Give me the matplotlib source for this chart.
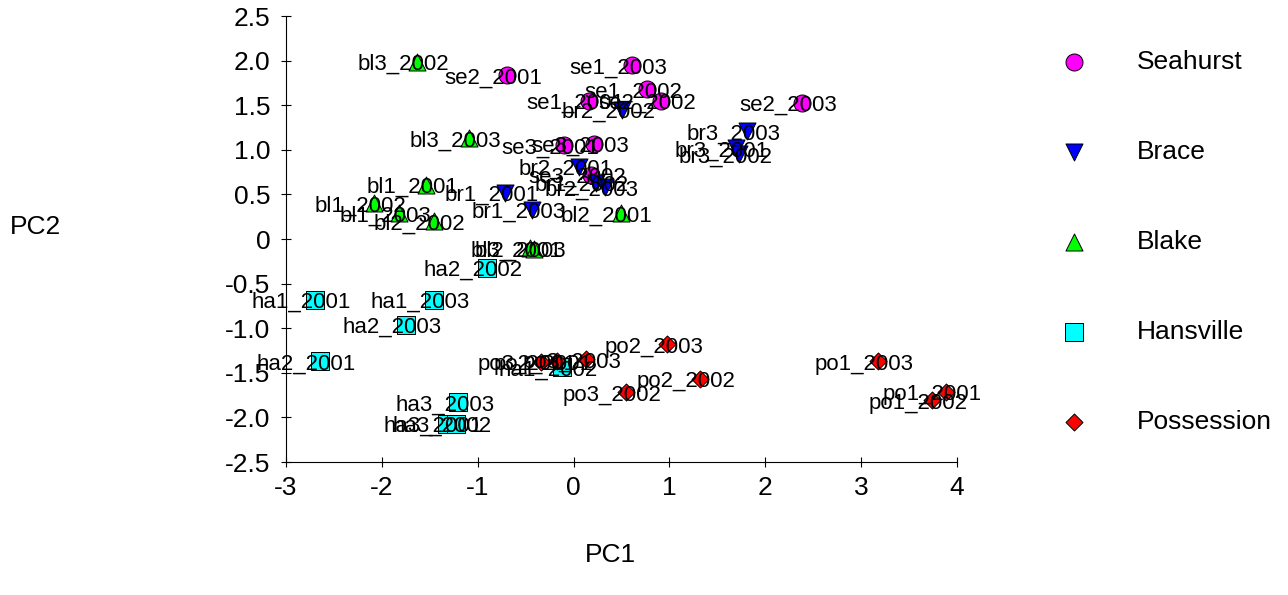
import numpy as np
import matplotlib
matplotlib.use("Agg")
import matplotlib.pyplot as plt

plt.rcParams['font.family'] = ['Liberation Sans', 'DejaVu Sans']
plt.rcParams['axes.unicode_minus'] = False

# PCA scores
se_names = ["se1_2003", "se2_2001", "se1_2002", "se1_2001", "se2_2002",
            "se2_2003", "se3_2001", "se3_2003", "se3_2002"]
se_pc1 = [0.61, -0.69, 0.77, 0.16, 0.91, 2.38, -0.10, 0.21, 0.18]
se_pc2 = [1.95, 1.84, 1.68, 1.55, 1.55, 1.53, 1.05, 1.07, 0.72]

br_names = ["br2_2002", "br3_2003", "br3_2001", "br3_2002", "br2_2001",
            "br1_2002", "br2_2003", "br1_2001", "br1_2003"]
br_pc1 = [0.51, 1.81, 1.69, 1.73, 0.06, 0.23, 0.33, -0.71, -0.43]
br_pc2 = [1.45, 1.21, 1.02, 0.95, 0.81, 0.63, 0.58, 0.52, 0.33]

bl_names = ["bl3_2002", "bl3_2003", "bl1_2001", "bl1_2002", "bl1_2003",
            "bl2_2002", "bl2_2001", "bl3_2001", "bl2_2003"]
bl_pc1 = [-1.63, -1.09, -1.54, -2.08, -1.82, -1.46, 0.49, -0.45, -0.41]
bl_pc2 = [1.99, 1.13, 0.61, 0.40, 0.29, 0.20, 0.29, -0.10, -0.11]

ha_names = ["ha2_2002", "ha1_2001", "ha1_2003", "ha2_2003", "ha2_2001",
            "ha3_2003", "ha3_2001", "ha3_2002", "ha1_2002"]
ha_pc1 = [-0.90, -2.70, -1.46, -1.75, -2.64, -1.20, -1.32, -1.23, -0.12]
ha_pc2 = [-0.32, -0.68, -0.68, -0.96, -1.37, -1.83, -2.07, -2.07, -1.44]

po_names = ["po2_2003", "po3_2001", "po2_2001", "po3_2003", "po2_2002",
            "po3_2002", "po1_2003", "po1_2001", "po1_2002"]
po_pc1 = [0.98, -0.34, -0.17, 0.13, 1.32, 0.55, 3.18, 3.89, 3.74]
po_pc2 = [-1.18, -1.38, -1.37, -1.35, -1.57, -1.72, -1.37, -1.71, -1.81]

groups = [
    ("Seahurst", se_names, se_pc1, se_pc2, "#ff00ff", "o", 150),
    ("Brace", br_names, br_pc1, br_pc2, "#0000ff", "v", 150),
    ("Blake", bl_names, bl_pc1, bl_pc2, "#00ff00", "^", 150),
    ("Hansville", ha_names, ha_pc1, ha_pc2, "#00ffff", "s", 150),
    ("Possession", po_names, po_pc1, po_pc2, "#ff0000", "D", 75),
]

fig = plt.figure(figsize=(12.88, 5.95), dpi=100)
ax = fig.add_axes([0.222, 0.2235, 0.521, 0.7495])

for name, labels, xs, ys, col, mk, sz in groups:
    ax.scatter(xs, ys, s=sz, c=col, marker=mk, edgecolors="black",
               linewidths=0.7, label=name, zorder=2)
    for lab, x, y in zip(labels, xs, ys):
        ax.annotate(lab, (x, y), xytext=(-10, -2), textcoords="offset points",
                    ha="center", va="center", fontsize=16, zorder=3)

ax.set_xlim(-3, 4)
ax.set_ylim(-2.5, 2.5)
ax.set_xticks(np.arange(-3, 5, 1))
yt = np.arange(-2.5, 2.51, 0.5)
ax.set_yticks(yt)
ax.set_yticklabels(["0" if abs(v) < 1e-9 else "%.1f" % v for v in yt])

for s in ["top", "right"]:
    ax.spines[s].set_visible(False)
ax.tick_params(direction="inout", length=6.5, width=0.8, labelsize=19)
ax.tick_params(axis="y", pad=8)
ax.tick_params(axis="x", pad=7)

fig.text(35.5 / 1288, 1 - 227 / 595, "PC2", ha="center", va="center", fontsize=19)
fig.text(610 / 1288, 1 - 555 / 595, "PC1", ha="center", va="center", fontsize=19)

ax.legend(loc="upper left", bbox_to_anchor=(0.813, 0.9375),
          bbox_transform=fig.transFigure, frameon=False, fontsize=19,
          scatterpoints=1, handlelength=1.0, handletextpad=1.9,
          labelspacing=2.5, borderpad=0)

fig.savefig("out.png", dpi=100)
